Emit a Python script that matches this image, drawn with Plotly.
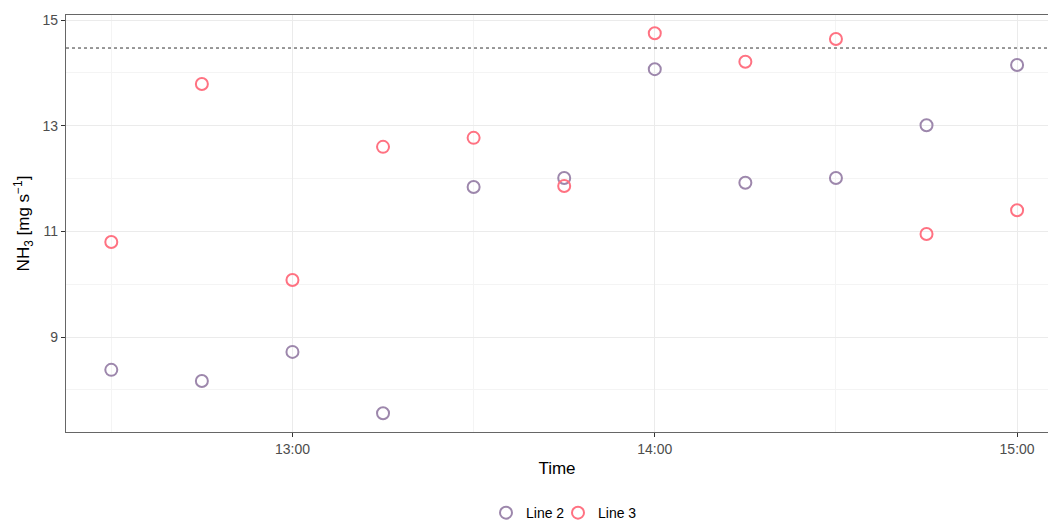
import plotly.graph_objects as go

times = ["12:30", "12:45", "13:00", "13:15", "13:30", "13:45", "14:00",
         "14:15", "14:30", "14:45", "15:00"]
line2 = [8.38, 8.17, 8.72, 7.56, 11.84, 12.01, 14.07, 11.92, 12.01, 13.01, 14.15]
line3 = [10.80, 13.79, 10.08, 12.60, 12.77, 11.86, 14.75, 14.21, 14.64, 10.95, 11.40]
threshold = 14.47

x = ["2020-01-01 " + t for t in times]

fig = go.Figure()
fig.add_trace(go.Scatter(x=x, y=line2, mode="markers", name="Line 2", legend="legend",
                         marker=dict(symbol="circle-open", size=12, color="#9D87AC",
                                     line=dict(width=2, color="#9D87AC"))))
fig.add_trace(go.Scatter(x=x, y=line3, mode="markers", name="Line 3", legend="legend2",
                         marker=dict(symbol="circle-open", size=12, color="#FF7282",
                                     line=dict(width=2, color="#FF7282"))))
fig.add_hline(y=threshold, line=dict(color="#333333", width=1, dash="3px,3px"))

font = "Liberation Sans, Arial, sans-serif"
leg_common = dict(orientation="h", xref="container", yref="container",
                  y=0.019, xanchor="left", yanchor="middle",
                  bgcolor="rgba(0,0,0,0)",
                  font=dict(size=14, color="#000000"), itemwidth=30)
fig.update_layout(
    width=1048, height=523,
    margin=dict(l=66, r=0, t=15, b=91),
    paper_bgcolor="white", plot_bgcolor="white",
    font=dict(family=font, color="#000000"),
    showlegend=True,
    legend=dict(x=486 / 1048, **leg_common),
    legend2=dict(x=558 / 1048, **leg_common),
    xaxis=dict(
        type="date", automargin=False,
        range=["2020-01-01 12:22:30", "2020-01-01 15:05:07"],
        tickvals=["2020-01-01 13:00", "2020-01-01 14:00", "2020-01-01 15:00"],
        tickformat="%H:%M",
        tickfont=dict(size=14, color="#4D4D4D"),
        ticks="outside", ticklen=4, tickcolor="#333333",
        showgrid=True, gridcolor="#EBEBEB", gridwidth=1.2,
        minor=dict(tickvals=["2020-01-01 12:30", "2020-01-01 13:30", "2020-01-01 14:30"],
                   showgrid=True, gridcolor="#F4F4F4", gridwidth=1, ticks=""),
        showline=True, linecolor="#666666", linewidth=1.2, mirror=True,
        zeroline=False,
        title=dict(text="Time", font=dict(size=17), standoff=6),
    ),
    yaxis=dict(
        automargin=False,
        range=[7.204, 15.095],
        tickvals=[9, 11, 13, 15],
        tickfont=dict(size=14, color="#4D4D4D"),
        ticks="outside", ticklen=4, tickcolor="#333333",
        showgrid=True, gridcolor="#EBEBEB", gridwidth=1.2,
        minor=dict(tickvals=[8, 10, 12, 14], showgrid=True, gridcolor="#F4F4F4",
                   gridwidth=1, ticks=""),
        showline=True, linecolor="#666666", linewidth=1.2, mirror=False,
        zeroline=False,
        title=dict(text="NH<sub>3</sub> [mg s<sup>−1</sup>]", font=dict(size=17), standoff=8),
    ),
)

fig.write_html("out.html", config={"displayModeBar": False},
               post_script="document.body.style.margin='0';document.body.style.overflow='hidden';")
